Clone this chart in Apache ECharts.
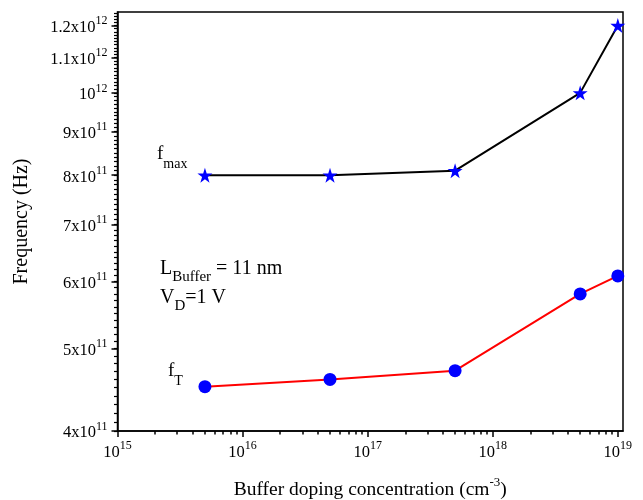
<!DOCTYPE html>
<html>
<head>
<meta charset="utf-8">
<script src="https://cdn.jsdelivr.net/npm/echarts@6/dist/echarts.min.js"></script>
<style>html,body{margin:0;padding:0;background:#fff;}#chart{width:643px;height:500px;}</style>
</head>
<body>
<div id="chart"></div>
<script>
// Data
const dopingValues = [5e15, 5e16, 5e17, 5e18, 1e19];
const fmaxValues = [8.0e11, 8.0e11, 8.1e11, 1.0e12, 1.2e12];
const ftValues = [4.51e11, 4.60e11, 4.71e11, 5.80e11, 6.09e11];
const xTickLabels = [1e15, 1e16, 1e17, 1e18, 1e19];
const yTickLabels = [4e11, 5e11, 6e11, 7e11, 8e11, 9e11, 1e12, 1.1e12, 1.2e12];
const xRange = [1e15, 1.1e19];
const yRange = [4e11, 1.245e12];

const FONT = '"Liberation Serif", "Times New Roman", serif';
const lg = Math.log10;

// minor ticks
const xMinor = [];
for (let d = 15; d < 19; d++) for (let k = 2; k <= 9; k++) xMinor.push(lg(k) + d);
const yMinor = [];
for (let v = 40; v <= 124; v++) yMinor.push(lg(v * 1e10));

function fmtPow(value) {
  const e = Math.floor(value + 1e-9);
  const m = Math.round(Math.pow(10, value - e) * 10) / 10;
  if (Math.abs(m - 1) < 1e-6) return '{b|10}{sup|' + e + '}';
  return '{b|' + m + 'x10}{sup|' + e + '}';
}
const richLabel = {
  b: { fontFamily: FONT, fontSize: 16.5, color: '#000', lineHeight: 21, verticalAlign: 'bottom' },
  sup: { fontFamily: FONT, fontSize: 12, color: '#000', lineHeight: 21, verticalAlign: 'top' }
};

const chart = echarts.init(document.getElementById('chart'), null, { renderer: 'canvas' });
const gridOpt = { left: 117.5, right: 20, top: 12, bottom: 69, show: true, borderColor: '#000', borderWidth: 1.5, backgroundColor: 'transparent', containLabel: false, outerBoundsMode: 'none' };

const option = {
  animation: false,
  backgroundColor: '#fff',
  grid: gridOpt,
  xAxis: [
    {
      type: 'value', min: lg(xRange[0]), max: lg(xRange[1]),
      axisLine: { show: true, lineStyle: { color: '#000', width: 1.5 } },
      axisTick: { show: true, customValues: xTickLabels.map(lg), length: 6, lineStyle: { color: '#000', width: 1.5 } },
      axisLabel: { customValues: xTickLabels.map(lg), formatter: fmtPow, rich: richLabel, margin: 9 },
      splitLine: { show: false },
      name: '{b|Buffer doping concentration (cm}{sup|-3}{b|)}',
      nameLocation: 'middle', nameGap: 45,
      nameTextStyle: { rich: {
        b: { fontFamily: FONT, fontSize: 19.5, color: '#000', lineHeight: 24, verticalAlign: 'bottom' },
        sup: { fontFamily: FONT, fontSize: 13, color: '#000', lineHeight: 24, verticalAlign: 'top' }
      } }
    },
    {
      type: 'value', min: lg(xRange[0]), max: lg(xRange[1]), position: 'bottom',
      axisLine: { show: false },
      axisTick: { show: true, customValues: xMinor, length: 3.5, lineStyle: { color: '#000', width: 1.5 } },
      axisLabel: { show: false },
      splitLine: { show: false }
    }
  ],
  yAxis: [
    {
      type: 'value', min: lg(yRange[0]), max: lg(yRange[1]),
      axisLine: { show: true, lineStyle: { color: '#000', width: 1.5 } },
      axisTick: { show: true, customValues: yTickLabels.map(lg), length: 6, lineStyle: { color: '#000', width: 1.5 } },
      axisLabel: { customValues: yTickLabels.map(lg), formatter: fmtPow, rich: richLabel, margin: 10 },
      splitLine: { show: false },
      name: 'Frequency (Hz)', nameLocation: 'middle', nameGap: 86, nameRotate: 90,
      nameTextStyle: { fontFamily: FONT, fontSize: 20, color: '#000' }
    },
    {
      type: 'value', min: lg(yRange[0]), max: lg(yRange[1]), position: 'left',
      axisLine: { show: false },
      axisTick: { show: true, customValues: yMinor, length: 3.5, lineStyle: { color: '#000', width: 1.2 } },
      axisLabel: { show: false },
      splitLine: { show: false }
    }
  ],
  series: [
    {
      name: 'fmax', type: 'line',
      data: dopingValues.map((x, i) => [lg(x), lg(fmaxValues[i])]),
      lineStyle: { color: '#000', width: 2 },
      symbol: 'path://M50,0 L61.2,35.4 L98,35.4 L68.2,57.3 L79.4,92 L50,70.6 L20.6,92 L31.8,57.3 L2,35.4 L38.8,35.4 Z',
      symbolSize: 15,
      itemStyle: { color: '#0000ff' },
      z: 3
    },
    {
      name: 'fT', type: 'line',
      data: dopingValues.map((x, i) => [lg(x), lg(ftValues[i])]),
      lineStyle: { color: '#ff0000', width: 2 },
      symbol: 'circle', symbolSize: 13,
      itemStyle: { color: '#0000ff' },
      z: 3
    }
  ],
  graphic: [
    { type: 'text', x: 157, y: 145, style: { text: '{b|f}{s|max}', rich: {
      b: { fontFamily: FONT, fontSize: 19, color: '#000', lineHeight: 22, verticalAlign: 'top' },
      s: { fontFamily: FONT, fontSize: 14, color: '#000', lineHeight: 22, verticalAlign: 'bottom', padding: [0, 0, -4, 0] } } } },
    { type: 'text', x: 160, y: 259, style: { text: '{b|L}{s|Buffer}{b| = 11 nm}', rich: {
      b: { fontFamily: FONT, fontSize: 20, color: '#000', lineHeight: 22, verticalAlign: 'top' },
      s: { fontFamily: FONT, fontSize: 15, color: '#000', lineHeight: 22, verticalAlign: 'bottom', padding: [0, 0, -4, 0] } } } },
    { type: 'text', x: 160, y: 288, style: { text: '{b|V}{s|D}{b|=1 V}', rich: {
      b: { fontFamily: FONT, fontSize: 20, color: '#000', lineHeight: 22, verticalAlign: 'top' },
      s: { fontFamily: FONT, fontSize: 15, color: '#000', lineHeight: 22, verticalAlign: 'bottom', padding: [0, 0, -4, 0] } } } },
    { type: 'text', x: 168, y: 362, style: { text: '{b|f}{s|T}', rich: {
      b: { fontFamily: FONT, fontSize: 19, color: '#000', lineHeight: 22, verticalAlign: 'top' },
      s: { fontFamily: FONT, fontSize: 14, color: '#000', lineHeight: 22, verticalAlign: 'bottom', padding: [0, 0, -4, 0] } } } }
  ]
};
chart.setOption(option);
</script>
</body>
</html>
